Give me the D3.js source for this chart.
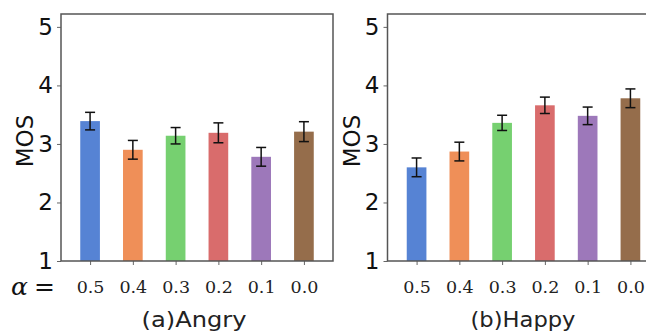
<!DOCTYPE html>
<html>
<head>
<meta charset="utf-8">
<script src="https://cdn.jsdelivr.net/npm/d3@7"></script>
<style>
  body { margin: 0; background: #fff; }
  svg { display: block; }
</style>
</head>
<body>
<script>
var alphas = ['0.5', '0.4', '0.3', '0.2', '0.1', '0.0'];
var colors = ['#4878d0', '#ee854a', '#6acc64', '#d65f5f', '#956cb4', '#8c613c'];
var angryMos = [3.39, 2.90, 3.14, 3.19, 2.78, 3.21];
var angryErr = [0.15, 0.16, 0.14, 0.17, 0.16, 0.17];
var happyMos = [2.60, 2.87, 3.36, 3.66, 3.48, 3.78];
var happyErr = [0.16, 0.16, 0.13, 0.14, 0.15, 0.16];
var yTicks = [1, 2, 3, 4, 5];

var svg = d3.select('body').append('svg').attr('width', 646).attr('height', 333);

var panels = [
  { left: 61, right: 333, mos: angryMos, err: angryErr, title: '(a)Angry' },
  { left: 387.5, right: 659.5, mos: happyMos, err: happyErr, title: '(b)Happy' }
];

var plotTop = 14, plotBottom = 261;
var y = d3.scaleLinear().domain([1, 5.22]).range([plotBottom, plotTop]);

panels.forEach(function (p, k) {
  var x = d3.scaleLinear().domain([-0.68, 5.68]).range([p.left, p.right]);
  var bw = x(0.46) - x(0);
  var g = svg.append('g');

  var data = alphas.map(function (a, i) { return { i: i, v: p.mos[i], e: p.err[i] }; });

  g.selectAll('rect.bar').data(data).enter().append('rect')
    .attr('class', 'bar')
    .attr('x', function (d) { return x(d.i) - bw / 2; })
    .attr('width', bw)
    .attr('y', function (d) { return y(d.v); })
    .attr('height', function (d) { return plotBottom - y(d.v); })
    .attr('fill', function (d) { return colors[d.i]; })
    .attr('fill-opacity', 0.92);

  // error bars
  var eb = g.selectAll('g.err').data(data).enter().append('g').attr('class', 'err')
    .attr('stroke', '#111').attr('stroke-width', 1.5);
  eb.append('line')
    .attr('x1', function (d) { return x(d.i); })
    .attr('x2', function (d) { return x(d.i); })
    .attr('y1', function (d) { return y(d.v - d.e); })
    .attr('y2', function (d) { return y(d.v + d.e); });
  eb.append('line')
    .attr('x1', function (d) { return x(d.i) - 5; })
    .attr('x2', function (d) { return x(d.i) + 5; })
    .attr('y1', function (d) { return y(d.v + d.e); })
    .attr('y2', function (d) { return y(d.v + d.e); });
  eb.append('line')
    .attr('x1', function (d) { return x(d.i) - 5; })
    .attr('x2', function (d) { return x(d.i) + 5; })
    .attr('y1', function (d) { return y(d.v - d.e); })
    .attr('y2', function (d) { return y(d.v - d.e); });

  // y axis
  var ya = g.append('g').attr('transform', 'translate(' + p.left + ',0)')
    .call(d3.axisLeft(y).tickValues(yTicks).tickFormat(d3.format('d')).tickSize(4).tickPadding(4));
  ya.select('.domain').remove();
  ya.selectAll('line').attr('stroke', '#666');
  ya.selectAll('text').attr('font-family', 'DejaVu Sans').attr('font-size', 23).attr('fill', '#111');

  // x axis
  var xa = g.append('g').attr('transform', 'translate(0,' + plotBottom + ')')
    .call(d3.axisBottom(x).tickValues(d3.range(alphas.length)).tickFormat(function (i) { return alphas[i]; }).tickSize(4).tickPadding(16));
  xa.select('.domain').remove();
  xa.selectAll('line').attr('stroke', '#666');
  xa.selectAll('text').attr('font-family', 'DejaVu Serif').attr('font-size', 17.5).attr('fill', '#222');

  // frame
  g.append('rect')
    .attr('x', p.left).attr('y', plotTop)
    .attr('width', p.right - p.left).attr('height', plotBottom - plotTop)
    .attr('fill', 'none').attr('stroke', '#555').attr('stroke-width', 1.5);

  g.append('text')
    .attr('transform', 'translate(' + (p.left - 28) + ',141) rotate(-90)')
    .attr('text-anchor', 'middle')
    .attr('font-family', 'DejaVu Sans').attr('font-size', 23).attr('fill', '#111')
    .text('MOS');

  g.append('text')
    .attr('x', k === 0 ? 194 : 523).attr('y', 327)
    .attr('text-anchor', 'middle')
    .attr('font-family', 'DejaVu Sans').attr('font-size', 21).attr('fill', '#222')
    .attr('textLength', 105).attr('lengthAdjust', 'spacingAndGlyphs')
    .text(p.title);
});

// alpha label
svg.append('text').attr('x', 11).attr('y', 295).attr('fill', '#111')
  .attr('font-family', 'DejaVu Serif').attr('font-style', 'italic').attr('font-size', 25).text('α');
svg.append('text').attr('x', 34).attr('y', 295).attr('fill', '#111')
  .attr('font-family', 'DejaVu Sans').attr('font-size', 25).text('=');
</script>
</body>
</html>
